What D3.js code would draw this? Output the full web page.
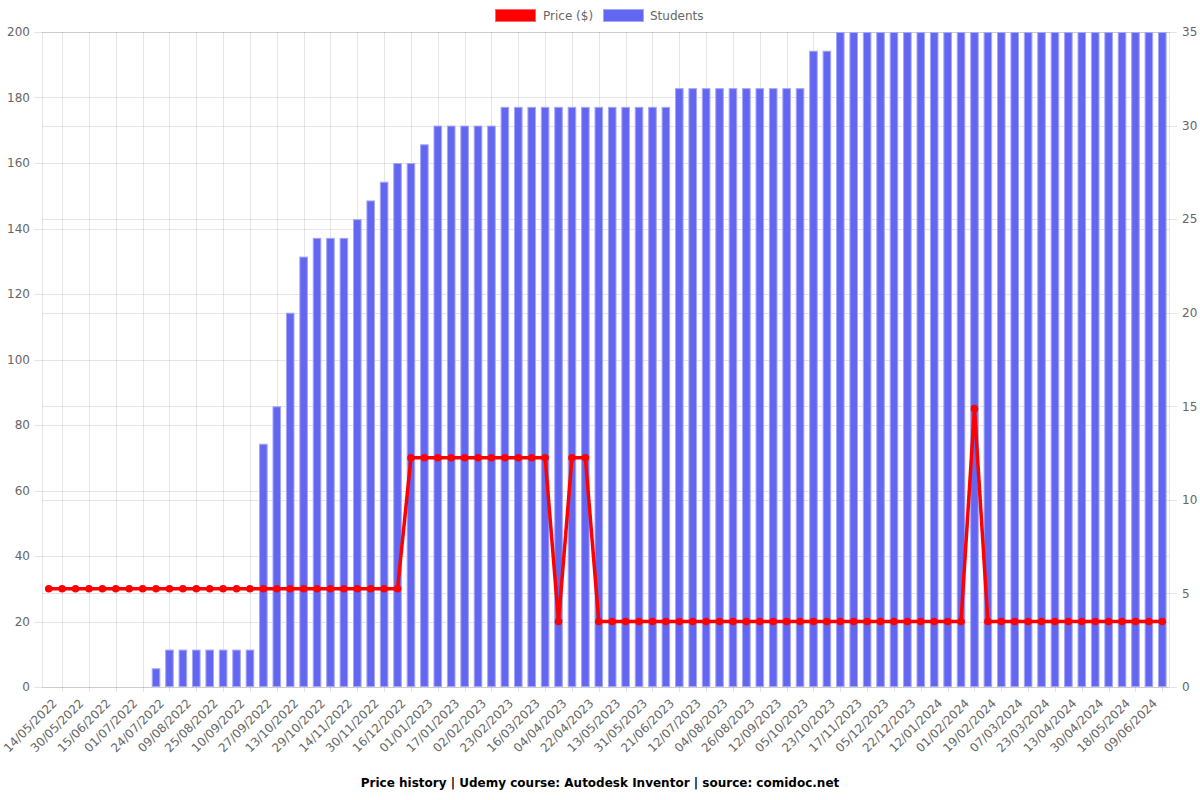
<!DOCTYPE html>
<html>
<head>
<meta charset="utf-8">
<script src="https://cdn.jsdelivr.net/npm/d3@7"></script>
<style>
  html, body { margin: 0; padding: 0; background: #fff; }
  svg { display: block; font-family: "DejaVu Sans", sans-serif; }
</style>
</head>
<body>
<svg id="chart" width="1200" height="800"></svg>
<script>
const dates = [
  "14/05/2022","22/05/2022","30/05/2022","07/06/2022","15/06/2022","23/06/2022","01/07/2022","12/07/2022",
  "24/07/2022","01/08/2022","09/08/2022","17/08/2022","25/08/2022","02/09/2022","10/09/2022","18/09/2022",
  "27/09/2022","05/10/2022","13/10/2022","21/10/2022","29/10/2022","06/11/2022","14/11/2022","22/11/2022",
  "30/11/2022","08/12/2022","16/12/2022","24/12/2022","01/01/2023","09/01/2023","17/01/2023","25/01/2023",
  "02/02/2023","12/02/2023","23/02/2023","05/03/2023","16/03/2023","26/03/2023","04/04/2023","13/04/2023",
  "22/04/2023","02/05/2023","13/05/2023","22/05/2023","31/05/2023","10/06/2023","21/06/2023","01/07/2023",
  "12/07/2023","24/07/2023","04/08/2023","15/08/2023","26/08/2023","03/09/2023","12/09/2023","23/09/2023",
  "05/10/2023","14/10/2023","23/10/2023","03/11/2023","17/11/2023","26/11/2023","05/12/2023","13/12/2023",
  "22/12/2023","01/01/2024","12/01/2024","22/01/2024","01/02/2024","10/02/2024","19/02/2024","27/02/2024",
  "07/03/2024","15/03/2024","23/03/2024","03/04/2024","13/04/2024","21/04/2024","30/04/2024","09/05/2024",
  "18/05/2024","29/05/2024","09/06/2024","20/06/2024"
];
const price = [
  30,30,30,30,30,30,30,30,30,30,30,30,30,30,30,30,30,30,30,30,30,30,30,30,30,30,30,
  70,70,70,70,70,70,70,70,70,70,70,
  20,
  70,70,
  20,20,20,20,20,20,20,20,20,20,20,20,20,20,20,20,20,20,20,20,20,20,20,20,20,20,20,20,
  85,
  20,20,20,20,20,20,20,20,20,20,20,20,20,20
];
const students = [
  0,0,0,0,0,0,0,0,
  1,
  2,2,2,2,2,2,2,
  13,15,20,23,
  24,24,24,
  25,26,27,
  28,28,
  29,
  30,30,30,30,30,
  31,31,31,31,31,31,31,31,31,31,31,31,31,
  32,32,32,32,32,32,32,32,32,32,
  34,34,
  35,35,35,35,35,35,35,35,35,35,35,35,35,35,35,35,35,35,35,35,35,35,35,35,35
];
const priceTicks = [0,20,40,60,80,100,120,140,160,180,200];
const studentTicks = [0,5,10,15,20,25,30,35];
const seriesNames = ["Price ($)", "Students"];
const titleText = "Price history | Udemy course: Autodesk Inventor | source: comidoc.net";

(function () {
const pLeft = 42, pRight = 1169, pTop = 32, pBottom = 687;
const gridColor = "rgba(0,0,0,0.1)";
const textColor = "#666";
const barFill = "#6366f1";
const barStroke = "rgba(165,167,247,1)";
const red = "#ff0000";

const svg = d3.select("#chart");

const x = d3.scaleBand().domain(d3.range(dates.length)).range([pLeft, pRight]).paddingInner(0).paddingOuter(0);
const yL = d3.scaleLinear().domain([0, 200]).range([pBottom, pTop]);
const yR = d3.scaleLinear().domain([0, 35]).range([pBottom, pTop]);
const bw = x.bandwidth();
const cx = i => x(i) + bw / 2;

// horizontal grid (both axes)
const g = svg.append("g");
g.selectAll(".hgl").data(priceTicks).join("line")
  .attr("x1", pLeft - 8).attr("x2", pRight)
  .attr("y1", d => Math.round(yL(d)) + 0.5).attr("y2", d => Math.round(yL(d)) + 0.5)
  .attr("stroke", gridColor);
g.selectAll(".hgr").data(studentTicks).join("line")
  .attr("x1", pLeft).attr("x2", pRight + 8)
  .attr("y1", d => Math.round(yR(d)) + 0.5).attr("y2", d => Math.round(yR(d)) + 0.5)
  .attr("stroke", gridColor);

// vertical grid: between displayed ticks (every other category)
const labelIdx = d3.range(0, dates.length, 2);
const vgrid = [pLeft].concat(labelIdx.map(i => cx(i) + bw)).filter(v => v <= pRight - 1);
vgrid.push(pRight);
g.selectAll(".vg").data(vgrid).join("line")
  .attr("x1", d => Math.round(d) + 0.5).attr("x2", d => Math.round(d) + 0.5)
  .attr("y1", pTop).attr("y2", d => (d === pLeft || d === pRight) ? pBottom : pBottom + 5)
  .attr("stroke", gridColor);

// bars
const barW = bw * 0.64;
svg.append("g").selectAll("rect").data(students).join("rect")
  .attr("x", (d, i) => cx(i) - barW / 2 + 0.5)
  .attr("y", d => yR(d) + 0.5)
  .attr("width", barW - 1)
  .attr("height", d => Math.max(0, pBottom - yR(d) - 1))
  .attr("fill", barFill)
  .attr("stroke", d => d > 0 ? barStroke : "none")
  .attr("stroke-width", 1);

// price line
const line = d3.line().x((d, i) => cx(i)).y(d => yL(d));
svg.append("path").datum(price)
  .attr("d", line)
  .attr("fill", "none")
  .attr("stroke", red)
  .attr("stroke-width", 3.5)
  .attr("stroke-linejoin", "round");
svg.append("g").selectAll("circle").data(price).join("circle")
  .attr("cx", (d, i) => cx(i)).attr("cy", d => yL(d))
  .attr("r", 3.8).attr("fill", red);

// y axis labels
const axL = d3.axisLeft(yL).tickValues(priceTicks).tickSize(0).tickPadding(12);
const gL = svg.append("g").attr("transform", `translate(${pLeft},0)`).call(axL);
const axR = d3.axisRight(yR).tickValues(studentTicks).tickSize(0).tickPadding(13);
const gR = svg.append("g").attr("transform", `translate(${pRight},0)`).call(axR);
[gL, gR].forEach(a => {
  a.select(".domain").remove();
  a.selectAll("text").attr("fill", textColor).style("font-size", "12px").style("font-family", "DejaVu Sans, sans-serif");
});

// x axis labels (every other category)
const xlab = svg.append("g");
xlab.selectAll("text").data(labelIdx).join("text")
  .attr("transform", i => `translate(${cx(i) + 6},${pBottom + 14}) rotate(-45)`)
  .attr("text-anchor", "end")
  .attr("dy", "0.35em")
  .attr("fill", textColor)
  .style("font-size", "12px")
  .text(i => dates[i]);

// legend
const leg = svg.append("g");
leg.append("rect").attr("x", 495.5).attr("y", 9.5).attr("width", 40).attr("height", 12)
  .attr("fill", red).attr("stroke", "#ff6666").attr("stroke-width", 1);
leg.append("text").attr("x", 543).attr("y", 16).attr("dy", "0.35em")
  .attr("fill", textColor).style("font-size", "12px").text(seriesNames[0]);
leg.append("rect").attr("x", 603.5).attr("y", 9.5).attr("width", 40).attr("height", 12)
  .attr("fill", barFill).attr("stroke", barStroke).attr("stroke-width", 1);
leg.append("text").attr("x", 650).attr("y", 16).attr("dy", "0.35em")
  .attr("fill", textColor).style("font-size", "12px").text(seriesNames[1]);

// title
svg.append("text").attr("x", 600).attr("y", 783).attr("dy", "0.35em")
  .attr("text-anchor", "middle").attr("fill", "#000")
  .style("font-size", "12px").style("font-weight", "bold")
  .text(titleText);
})();
</script>
</body>
</html>
